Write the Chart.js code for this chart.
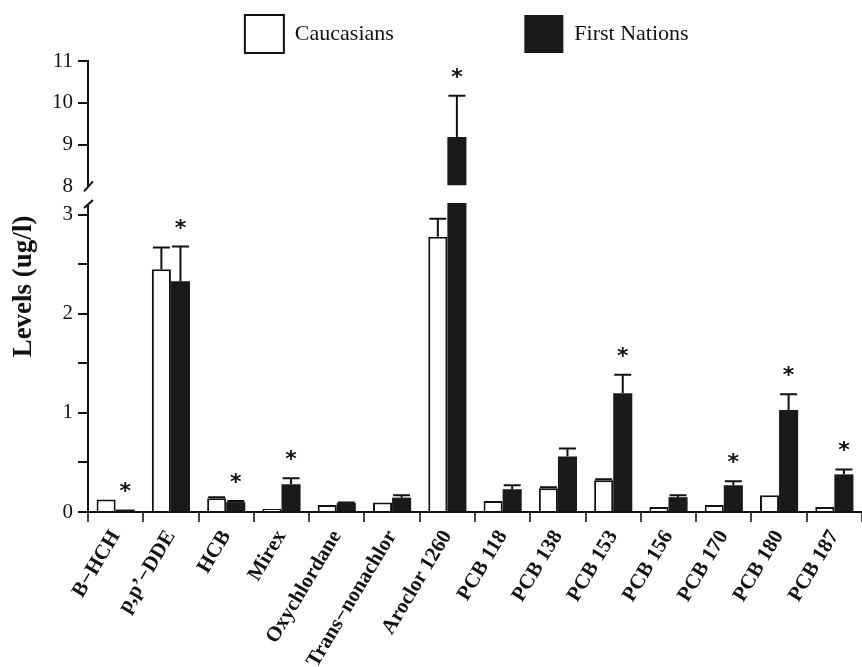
<!DOCTYPE html>
<html>
<head>
<meta charset="utf-8">
<script src="https://cdn.jsdelivr.net/npm/chart.js@4.4.1/dist/chart.umd.min.js"></script>
<style>
html,body{margin:0;padding:0;background:#fff;}
#wrap{width:862px;height:667px;position:relative;overflow:hidden;}
</style>
</head>
<body>
<div id="wrap"><canvas id="c" width="862" height="667"></canvas></div>
<script>
// ---- data ----
const categories = ['B−HCH', 'p,p’−DDE', 'HCB', 'Mirex', 'Oxychlordane', 'Trans−nonachlor', 'Aroclor 1260',
  'PCB 118', 'PCB 138', 'PCB 153', 'PCB 156', 'PCB 170', 'PCB 180', 'PCB 187'];
const caucasians    = [0.125, 2.45, 0.14, 0.03, 0.07, 0.095, 2.78, 0.11, 0.24, 0.32, 0.05, 0.07, 0.17, 0.05];
const caucasiansErr = [0, 0.22, 0.01, 0, 0, 0, 0.18, 0, 0.01, 0.01, 0, 0, 0, 0];
const firstNations    = [0.025, 2.33, 0.10, 0.28, 0.09, 0.145, 9.18, 0.23, 0.56, 1.20, 0.15, 0.27, 1.03, 0.38];
const firstNationsErr = [0, 0.35, 0.01, 0.06, 0.005, 0.025, 0.99, 0.04, 0.08, 0.185, 0.02, 0.04, 0.16, 0.05];
const significant = [true, true, true, true, false, false, true, false, false, true, false, true, true, true];
const lowerTicks = [0, 0.5, 1, 1.5, 2, 2.5, 3];
const upperTicks = [8, 8.5, 9, 9.5, 10, 10.5, 11];
const lowerRange = [0, 3.12];
const upperRange = [7.6, 11];
const seriesNames = ['Caucasians', 'First Nations'];
const yTitle = 'Levels (ug/l)';

// values that exceed the lower panel continue in the upper panel
const firstNationsUpper = firstNations.map(v => (v > lowerRange[1] ? v : null));

const INK = '#111';
const FILL = '#1a1a1a';
Chart.defaults.font.family = "'Liberation Serif', 'Times New Roman', serif";
Chart.defaults.color = INK;

const scaleClip = {
  id: 'scaleClip',
  beforeDatasetDraw(chart, args) {
    const ys = chart.scales[args.meta.yAxisID];
    const ctx = chart.ctx;
    ctx.save();
    ctx.beginPath();
    ctx.rect(chart.chartArea.left - 3, ys.top, chart.chartArea.right - chart.chartArea.left + 6, ys.bottom - ys.top + 3);
    ctx.clip();
  },
  afterDatasetDraw(chart) { chart.ctx.restore(); }
};

const errorBars = {
  id: 'errorBars',
  afterDatasetsDraw(chart) {
    const ctx = chart.ctx;
    const yL = chart.scales.y, yU = chart.scales.yUp;
    const m0 = chart.getDatasetMeta(0), m1 = chart.getDatasetMeta(1), m2 = chart.getDatasetMeta(2);
    ctx.save();
    ctx.strokeStyle = INK;
    ctx.fillStyle = INK;
    ctx.lineWidth = 2;
    const cap = 8.5;
    const drawErr = (x, y0, y1) => {
      ctx.beginPath();
      ctx.moveTo(x, y0); ctx.lineTo(x, y1);
      ctx.moveTo(x - cap, y1); ctx.lineTo(x + cap, y1);
      ctx.stroke();
    };
    ctx.font = "bold 22px 'DejaVu Sans'";
    ctx.textAlign = 'center';
    ctx.textBaseline = 'alphabetic';
    categories.forEach((c, i) => {
      if (caucasiansErr[i] > 0) {
        const el = m0.data[i];
        drawErr(el.x, yL.getPixelForValue(caucasians[i]), yL.getPixelForValue(caucasians[i] + caucasiansErr[i]));
      }
      const up = firstNations[i] > lowerRange[1];
      const sc = up ? yU : yL;
      const el = (up ? m2 : m1).data[i];
      const top = sc.getPixelForValue(firstNations[i] + firstNationsErr[i]);
      if (firstNationsErr[i] > 0) drawErr(el.x, sc.getPixelForValue(firstNations[i]), top);
      if (significant[i]) ctx.fillText('*', el.x, top - 12);
    });
    ctx.restore();
  }
};

const axisBreak = {
  id: 'axisBreak',
  afterDraw(chart) {
    const ctx = chart.ctx;
    const yL = chart.scales.y, yU = chart.scales.yUp;
    const x = chart.chartArea.left;
    const yEnd = yU.getPixelForValue(upperTicks[0]);
    const yStart = yL.top + 1;
    ctx.save();
    ctx.fillStyle = '#fff';
    ctx.fillRect(x - 4, yEnd + 1, 8, yStart - yEnd - 1);
    ctx.strokeStyle = INK;
    ctx.lineWidth = 2;
    ctx.beginPath();
    ctx.moveTo(x - 4, yEnd + 5); ctx.lineTo(x + 5, yEnd - 5);
    ctx.moveTo(x - 4, yStart + 4); ctx.lineTo(x + 5, yStart - 4);
    ctx.stroke();
    ctx.restore();
  }
};

const yAxisCommon = (ticksArr, hideFirstTick) => ({
  position: 'left',
  stack: 'v',
  stacked: false,
  afterBuildTicks(s) { s.ticks = ticksArr.map(v => ({ value: v })); },
  ticks: {
    callback: v => (Number.isInteger(v) ? String(v) : ''),
    padding: 5,
    color: INK,
    font: { size: 21 }
  },
  grid: {
    drawOnChartArea: false, drawTicks: true, tickLength: 10, color: INK, lineWidth: 2,
    tickColor: (c) => (hideFirstTick && c.tick && c.tick.value === ticksArr[0] ? 'rgba(0,0,0,0)' : INK)
  },
  border: { display: true, color: INK, width: 2 },
  afterFit(s) { s.width = 44; }
});

new Chart(document.getElementById('c'), {
  type: 'bar',
  data: {
    labels: categories,
    datasets: [
      { label: seriesNames[0], data: caucasians, backgroundColor: '#fff', borderColor: INK, borderWidth: 2,
        stack: 'c', yAxisID: 'y' },
      { label: seriesNames[1], data: firstNations, backgroundColor: FILL, borderColor: FILL, borderWidth: 0,
        stack: 'f', yAxisID: 'y' },
      { label: seriesNames[1] + ' (upper)', data: firstNationsUpper, backgroundColor: FILL, borderColor: FILL, borderWidth: 0,
        stack: 'f', yAxisID: 'yUp', base: upperTicks[0] }
    ]
  },
  options: {
    responsive: false,
    animation: false,
    devicePixelRatio: 1,
    barPercentage: 1,
    categoryPercentage: 0.69,
    layout: { padding: { left: 0, right: 0, top: 0, bottom: 0 } },
    plugins: {
      tooltip: { enabled: false },
      legend: {
        position: 'top',
        fullSize: false,
        maxHeight: 61,
        labels: {
          boxWidth: 39,
          boxHeight: 38,
          padding: 15,
          color: INK,
          font: { size: 22 },
          generateLabels(chart) {
            const items = Chart.defaults.plugins.legend.labels.generateLabels(chart).filter(it => it.datasetIndex < 2);
            items[0].text = items[0].text + '\u2003\u2003\u2003\u2003\u2003 ';
            items[1].text = items[1].text + '   ';
            return items;
          }
        }
      }
    },
    scales: {
      x: {
        stacked: true,
        offset: true,
        grid: { offset: true, drawOnChartArea: false, drawTicks: true, tickLength: 10, color: '#444', lineWidth: 2 },
        border: { color: INK, width: 2 },
        ticks: { autoSkip: false, maxRotation: 59, minRotation: 59, padding: 4, color: INK, font: { size: 21, weight: 'bold' } },
        afterFit(s) { s.height = 155; }
      },
      y: Object.assign(yAxisCommon(lowerTicks, false), { min: lowerRange[0], max: lowerRange[1], stackWeight: 309 }),
      yUp: Object.assign(yAxisCommon(upperTicks, true), { min: upperRange[0], max: upperRange[1], stackWeight: 142 }),
      yT: {
        position: 'left',
        weight: 5,
        display: true,
        grid: { display: false },
        border: { display: false },
        ticks: { display: false },
        title: { display: true, text: yTitle, color: INK, font: { size: 27, weight: 'bold' }, padding: { top: 8, bottom: 4 } },
        afterFit(s) { s.width = 44; }
      }
    }
  },
  plugins: [scaleClip, errorBars, axisBreak]
});
</script>
</body>
</html>
